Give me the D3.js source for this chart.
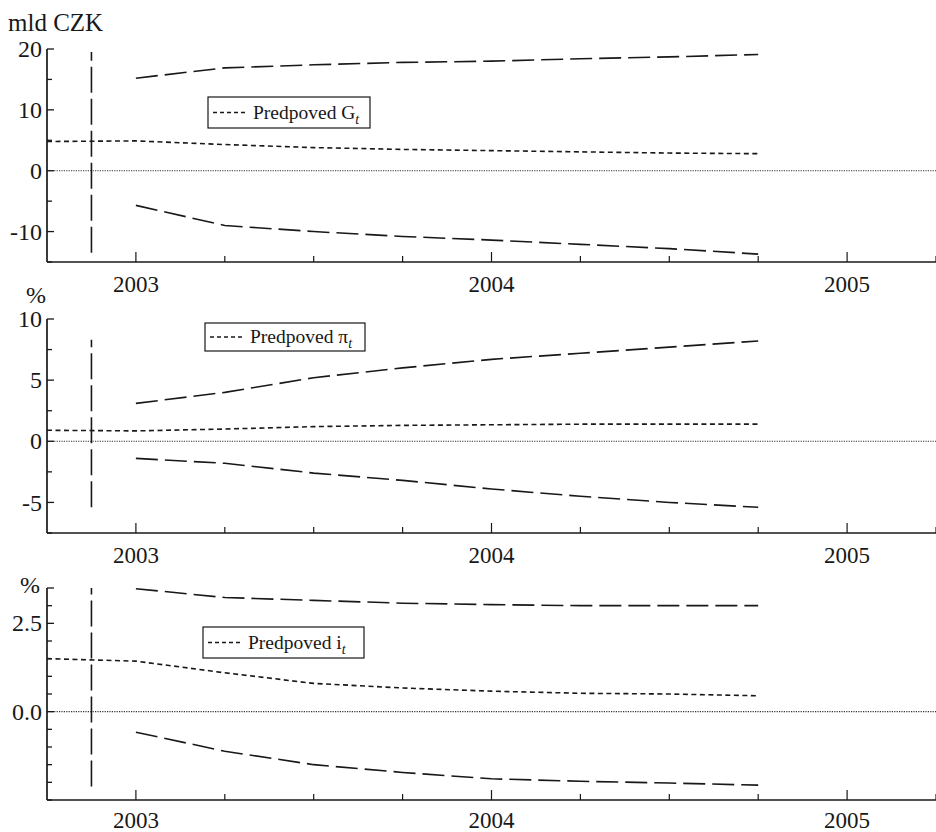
<!DOCTYPE html>
<html>
<head>
<meta charset="utf-8">
<script src="https://cdn.jsdelivr.net/npm/d3@7"></script>
<style>
  html, body { margin: 0; padding: 0; background: #fff; }
  svg { display: block; }
</style>
</head>
<body>
<svg id="chart" width="936" height="832"></svg>
<script>
// Quarterly forecast horizon (decimal years)
const quarters = [2002.75, 2003, 2003.25, 2003.5, 2003.75, 2004, 2004.25, 2004.5, 2004.75];
const bandQuarters = quarters.slice(1);
const years = [2003, 2004, 2005];
const quarterTicks = [2003, 2003.25, 2003.5, 2003.75, 2004, 2004.25, 2004.5, 2004.75, 2005, 2005.25];
const markerDate = 2002.875;

// Government balance G_t (bn CZK)
const gCentral = [4.8, 4.9, 4.3, 3.8, 3.5, 3.3, 3.1, 2.9, 2.8];
const gUpper = [15.2, 16.9, 17.4, 17.8, 18.0, 18.4, 18.7, 19.1];
const gLower = [-5.7, -9.0, -10.0, -10.8, -11.4, -12.1, -12.8, -13.7];
const gTicks = [-15, -10, -5, 0, 5, 10, 15, 20];
const gLabels = [-10, 0, 10, 20];

// Inflation pi_t (%)
const piCentral = [0.9, 0.85, 1.0, 1.2, 1.3, 1.35, 1.4, 1.4, 1.4];
const piUpper = [3.1, 4.0, 5.2, 6.0, 6.7, 7.2, 7.7, 8.2];
const piLower = [-1.4, -1.8, -2.6, -3.2, -3.9, -4.5, -5.0, -5.4];
const piTicks = [-7.5, -5, -2.5, 0, 2.5, 5, 7.5, 10];
const piLabels = [-5, 0, 5, 10];

// Interest rate i_t (%)
const iCentral = [1.5, 1.43, 1.1, 0.8, 0.67, 0.58, 0.52, 0.5, 0.45];
const iUpper = [3.48, 3.23, 3.15, 3.07, 3.03, 3.0, 3.0, 3.0];
const iLower = [-0.58, -1.12, -1.5, -1.72, -1.9, -1.97, -2.02, -2.08];
const iTicks = [-2.5, -2, -1.5, -1, -0.5, 0, 0.5, 1, 1.5, 2, 2.5, 3, 3.5];
const iLabels = [0, 2.5];

const intFmt = d => String(d);
const oneDec = d => d.toFixed(1);

const panels = [
  { unit: "mld CZK", unitX: 8, unitY: 31, unitSize: 25, domain: [-15, 20], range: [262, 49],
    central: gCentral, upper: gUpper, lower: gLower, ticks: gTicks, labels: gLabels,
    fmt: intFmt, marker: [-13.5, 19.5], sym: "G", yearDy: 30,
    legend: { x: 208, y: 97, w: 162, h: 31 } },
  { unit: "%", unitX: 26, unitY: 303, unitSize: 24, domain: [-7.5, 10], range: [533, 319],
    central: piCentral, upper: piUpper, lower: piLower, ticks: piTicks, labels: piLabels,
    fmt: intFmt, marker: [-5.4, 8.3], sym: "π", yearDy: 30,
    legend: { x: 205, y: 323, w: 160, h: 28 } },
  { unit: "%", unitX: 20, unitY: 593, unitSize: 24, domain: [-2.5, 3.5], range: [800, 588],
    central: iCentral, upper: iUpper, lower: iLower, ticks: iTicks, labels: iLabels,
    fmt: oneDec, marker: [-2.12, 3.5], sym: "i", yearDy: 28,
    legend: { x: 203, y: 627, w: 161, h: 31 } }
];

const serif = "'Liberation Serif', 'Tinos', 'Times New Roman', 'Nimbus Roman', 'FreeSerif', 'DejaVu Serif', 'Noto Serif', serif";
const ink = "#181818";
const svg = d3.select("#chart").attr("font-family", serif);
const x = d3.scaleLinear().domain([2002.75, 2005.25]).range([47, 936]);

panels.forEach(p => {
  const y = d3.scaleLinear().domain(p.domain).range(p.range);
  const g = svg.append("g").attr("fill", ink);
  const y0 = p.range[0];

  // zero reference line (dotted)
  g.append("line")
    .attr("x1", x.range()[0]).attr("x2", x.range()[1])
    .attr("y1", y(0)).attr("y2", y(0))
    .attr("stroke", "#333").attr("stroke-width", 1.1)
    .attr("stroke-dasharray", "1.2,1.2");

  // vertical marker at forecast start
  g.append("line")
    .attr("x1", x(markerDate)).attr("x2", x(markerDate))
    .attr("y1", y(p.marker[0])).attr("y2", y(p.marker[1]))
    .attr("stroke", ink).attr("stroke-width", 1.6)
    .attr("stroke-dasharray", "26,6");

  // uncertainty bands (long dash)
  const bandLine = d3.line().x((d, i) => x(bandQuarters[i])).y(d => y(d));
  [p.upper, p.lower].forEach(arr => {
    g.append("path").datum(arr)
      .attr("d", bandLine)
      .attr("fill", "none").attr("stroke", ink).attr("stroke-width", 1.6)
      .attr("stroke-dasharray", "22,7");
  });

  // central forecast (short dash)
  const cLine = d3.line().x((d, i) => x(quarters[i])).y(d => y(d));
  g.append("path").datum(p.central)
    .attr("d", cLine)
    .attr("fill", "none").attr("stroke", ink).attr("stroke-width", 1.6)
    .attr("stroke-dasharray", "5,3.5");

  // y axis (ticks pointing inward)
  const yAxis = g.append("g").attr("transform", `translate(${x.range()[0]},0)`);
  yAxis.append("line")
    .attr("x1", 0).attr("x2", 0).attr("y1", p.range[1]).attr("y2", y0)
    .attr("stroke", ink).attr("stroke-width", 1.7);
  yAxis.selectAll("line.tick").data(p.ticks).join("line")
    .attr("class", "tick")
    .attr("x1", 0).attr("x2", d => p.labels.includes(d) || d === p.domain[1] ? 7 : 5)
    .attr("y1", d => y(d)).attr("y2", d => y(d))
    .attr("stroke", ink).attr("stroke-width", 1.3);
  yAxis.selectAll("text").data(p.labels).join("text")
    .attr("x", -5).attr("y", d => y(d))
    .attr("dy", "0.34em")
    .attr("text-anchor", "end")
    .attr("font-size", 24)
    .text(d => p.fmt(d));

  // x axis (ticks pointing inward)
  const xAxis = g.append("g").attr("transform", `translate(0,${y0})`);
  xAxis.append("line")
    .attr("x1", x.range()[0]).attr("x2", x.range()[1]).attr("y1", 0).attr("y2", 0)
    .attr("stroke", ink).attr("stroke-width", 1.7);
  xAxis.selectAll("line.tick").data(quarterTicks).join("line")
    .attr("class", "tick")
    .attr("x1", d => x(d)).attr("x2", d => x(d))
    .attr("y1", 0).attr("y2", d => years.includes(d) ? -10 : -6)
    .attr("stroke", ink).attr("stroke-width", 1.2);
  xAxis.selectAll("text").data(years).join("text")
    .attr("x", d => x(d)).attr("y", p.yearDy)
    .attr("text-anchor", "middle")
    .attr("font-size", 23)
    .text(d => d);

  // unit label
  g.append("text")
    .attr("x", p.unitX).attr("y", p.unitY)
    .attr("font-size", p.unitSize)
    .text(p.unit);

  // legend box
  const L = p.legend;
  const lg = g.append("g").attr("transform", `translate(${L.x},${L.y})`);
  lg.append("rect")
    .attr("width", L.w).attr("height", L.h)
    .attr("fill", "#fff").attr("stroke", ink).attr("stroke-width", 1.2);
  lg.append("line")
    .attr("x1", 5).attr("x2", 38).attr("y1", L.h / 2).attr("y2", L.h / 2)
    .attr("stroke", ink).attr("stroke-width", 1.3)
    .attr("stroke-dasharray", "4,3");
  const t = lg.append("text")
    .attr("x", 45).attr("y", L.h / 2 + 6)
    .attr("font-size", 19.5);
  t.append("tspan").text("Predpoved " + p.sym);
  t.append("tspan")
    .attr("font-size", 14).attr("font-style", "italic")
    .attr("dy", 5)
    .text("t");
});
</script>
</body>
</html>
